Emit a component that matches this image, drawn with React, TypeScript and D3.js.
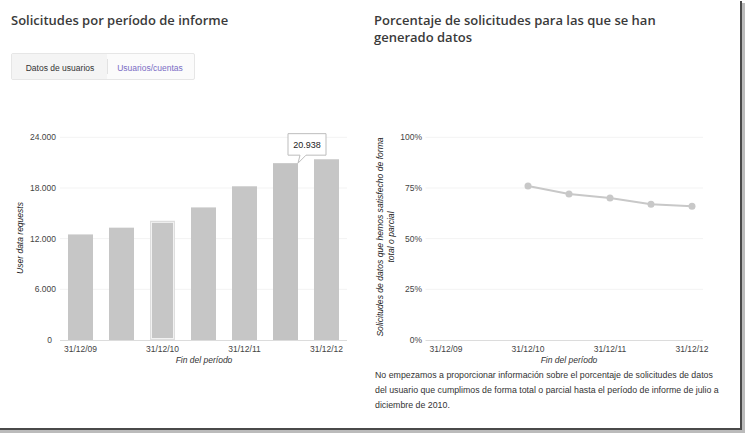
import React, { useEffect, useRef } from "react";
import * as d3 from "d3";

// period end dates, one per half-year report
const periods = ["31/12/09", "30/06/10", "31/12/10", "30/06/11", "31/12/11", "30/06/12", "31/12/12"];
const labelledPeriods = ["31/12/09", "31/12/10", "31/12/11", "31/12/12"];
const requests = [12500, 13300, 14100, 15700, 18200, 20938, 21400];
const requestTicks = [0, 6000, 12000, 18000, 24000];

// percentage of requests with data produced (reported since Jul-Dec 2010)
const pctPeriods = ["31/12/10", "30/06/11", "31/12/11", "30/06/12", "31/12/12"];
const pctValues = [76, 72, 70, 67, 66];
const pctTicks = [0, 25, 50, 75, 100];

const selectedPeriod = "31/12/10";
const hoverPeriod = "30/06/12";

const footnote = [
  "No empezamos a proporcionar información sobre el porcentaje de solicitudes de datos",
  "del usuario que cumplimos de forma total o parcial hasta el período de informe de julio a",
  "diciembre de 2010.",
];

const W = 745, H = 433;
const SANS = "'Liberation Sans', Arial, sans-serif";
const TITLE = "'Open Sans', 'Noto Sans', sans-serif";

const locale = d3.formatLocale({ decimal: ",", thousands: ".", grouping: [3], currency: ["", "€"] });
const fmt = locale.format(",d");

export default function App() {
  const ref = useRef<SVGSVGElement>(null);

  useEffect(() => {
    const svg = d3.select(ref.current);
    svg.selectAll("*").remove();

    // titles
    svg.append("text").attr("x", 11).attr("y", 25)
      .style("font-family", TITLE).style("font-weight", 600).style("font-size", "13px")
      .attr("fill", "#3a3a3a").text("Solicitudes por período de informe");
    const t2 = svg.append("text").attr("x", 374).attr("y", 25)
      .style("font-family", TITLE).style("font-weight", 600).style("font-size", "13px")
      .attr("fill", "#3a3a3a");
    t2.append("tspan").attr("x", 374).text("Porcentaje de solicitudes para las que se han");
    t2.append("tspan").attr("x", 374).attr("dy", 17).text("generado datos");

    // tab switcher
    const tabs = svg.append("g");
    tabs.append("rect").attr("x", 11.5).attr("y", 53.5).attr("width", 183).attr("height", 26)
      .attr("fill", "#fbfbfb").attr("stroke", "#e6e6e6").attr("rx", 1.5);
    tabs.append("rect").attr("x", 12).attr("y", 54).attr("width", 95).attr("height", 25).attr("fill", "#f4f4f4");
    tabs.append("line").attr("x1", 107.5).attr("x2", 107.5).attr("y1", 59).attr("y2", 74).attr("stroke", "#e2e2e2");
    tabs.append("text").attr("x", 60).attr("y", 70.5).attr("text-anchor", "middle")
      .style("font-family", SANS).style("font-size", "8.5px").attr("fill", "#333").text("Datos de usuarios");
    tabs.append("text").attr("x", 150).attr("y", 70.5).attr("text-anchor", "middle")
      .style("font-family", SANS).style("font-size", "8.5px").attr("fill", "#7a6cc4").text("Usuarios/cuentas");

    // ---------- left: bar chart ----------
    const x = d3.scaleBand().domain(periods).range([60, 347]).paddingInner(0.39).paddingOuter(0.195);
    const y = d3.scaleLinear().domain([0, 24000]).range([340, 137.3]);

    const left = svg.append("g");
    left.selectAll(".grid").data(requestTicks.slice(1)).enter().append("line")
      .attr("x1", 60).attr("x2", 347).attr("y1", d => y(d)).attr("y2", d => y(d))
      .attr("stroke", "#f3f3f3");
    left.selectAll(".ytick").data(requestTicks).enter().append("text")
      .attr("x", d => (d === 0 ? 52 : 56)).attr("y", d => y(d) + 3).attr("text-anchor", "end")
      .style("font-family", SANS).style("font-size", "8.5px").attr("fill", "#444")
      .text(d => fmt(d));

    const rows = periods.map((p, i) => ({ p, v: requests[i] }));
    left.selectAll(".bar").data(rows).enter().append("rect")
      .attr("x", d => x(d.p)!).attr("y", d => y(d.v)).attr("width", x.bandwidth())
      .attr("height", d => y(0) - y(d.v))
      .attr("fill", d => (d.p === hoverPeriod ? "#c3c3c3" : "#c6c6c6"));

    // selected bar outline
    const sel = rows.find(d => d.p === selectedPeriod)!;
    left.append("rect").attr("x", x(sel.p)! + 0.5).attr("y", y(sel.v) + 0.5)
      .attr("width", x.bandwidth() - 1).attr("height", y(0) - y(sel.v) - 1)
      .attr("fill", "none").attr("stroke", "#dedede");
    left.append("rect").attr("x", x(sel.p)! + 1.5).attr("y", y(sel.v) + 1.5)
      .attr("width", x.bandwidth() - 3).attr("height", y(0) - y(sel.v) - 3)
      .attr("fill", "none").attr("stroke", "#f2f2f2");

    left.append("line").attr("x1", 60).attr("x2", 347).attr("y1", 340.5).attr("y2", 340.5).attr("stroke", "#dcdcdc");
    left.selectAll(".xtick").data(labelledPeriods).enter().append("text")
      .attr("x", d => x(d)! + x.bandwidth() / 2).attr("y", 352).attr("text-anchor", "middle")
      .style("font-family", SANS).style("font-size", "8.5px").attr("fill", "#444").text(d => d);
    left.append("text").attr("x", 204).attr("y", 362.5).attr("text-anchor", "middle")
      .style("font-family", SANS).style("font-size", "8.5px").style("font-style", "italic")
      .attr("fill", "#333").text("Fin del período");
    left.append("text").attr("transform", "translate(23,238) rotate(-90)").attr("text-anchor", "middle")
      .style("font-family", SANS).style("font-size", "8.5px").style("font-style", "italic")
      .attr("fill", "#222").text("User data requests");

    // tooltip on hovered bar
    const hv = rows.find(d => d.p === hoverPeriod)!;
    const tipX = x(hv.p)! + x.bandwidth();
    const tipY = y(hv.v);
    const tip = left.append("g");
    tip.append("path")
      .attr("d", `M${tipX - 10},${tipY - 29.5} H${tipX + 28} V${tipY - 8} H${tipX + 8} L${tipX},${tipY} L${tipX + 2},${tipY - 8} H${tipX - 10} Z`)
      .attr("fill", "#fff").attr("stroke", "#bdbdbd").attr("stroke-linejoin", "round");
    tip.append("text").attr("x", tipX + 9).attr("y", tipY - 15.5).attr("text-anchor", "middle")
      .style("font-family", SANS).style("font-size", "9px").attr("fill", "#222").text(fmt(hv.v));

    // ---------- right: line chart ----------
    const xp = d3.scalePoint().domain(periods).range([425.5, 712.5]).padding(0.5);
    const yp = d3.scaleLinear().domain([0, 100]).range([340, 137.3]);

    const right = svg.append("g");
    right.selectAll(".grid").data(pctTicks.slice(1)).enter().append("line")
      .attr("x1", 425.5).attr("x2", 703).attr("y1", d => yp(d)).attr("y2", d => yp(d))
      .attr("stroke", "#f3f3f3");
    right.selectAll(".ytick").data(pctTicks).enter().append("text")
      .attr("x", 422).attr("y", d => yp(d) + 3).attr("text-anchor", "end")
      .style("font-family", SANS).style("font-size", "8.5px").attr("fill", "#444")
      .text(d => d + "%");
    right.append("line").attr("x1", 425.5).attr("x2", 703).attr("y1", 340.5).attr("y2", 340.5).attr("stroke", "#dcdcdc");
    right.selectAll(".xtick").data(labelledPeriods).enter().append("text")
      .attr("x", d => xp(d)!).attr("y", 352).attr("text-anchor", "middle")
      .style("font-family", SANS).style("font-size", "8.5px").attr("fill", "#444").text(d => d);
    right.append("text").attr("x", 569).attr("y", 362.5).attr("text-anchor", "middle")
      .style("font-family", SANS).style("font-size", "8.5px").style("font-style", "italic")
      .attr("fill", "#333").text("Fin del período");
    const yl = right.append("text").attr("transform", "translate(383,237) rotate(-90)").attr("text-anchor", "middle")
      .style("font-family", SANS).style("font-size", "8.6px").style("font-style", "italic").attr("fill", "#222");
    yl.append("tspan").attr("x", 0).text("Solicitudes de datos que hemos satisfecho de forma");
    yl.append("tspan").attr("x", 0).attr("dy", 11).text("total o parcial");

    const pts = pctPeriods.map((p, i) => ({ p, v: pctValues[i] }));
    right.append("path").datum(pts)
      .attr("d", d3.line<{ p: string; v: number }>().x(d => xp(d.p)!).y(d => yp(d.v)))
      .attr("fill", "none").attr("stroke", "#c8c8c8").attr("stroke-width", 2);
    right.selectAll(".pt").data(pts).enter().append("circle")
      .attr("cx", d => xp(d.p)!).attr("cy", d => yp(d.v)).attr("r", 3.5).attr("fill", "#c8c8c8");

    const fn = svg.append("text").attr("x", 375).attr("y", 378)
      .style("font-family", SANS).style("font-size", "8.8px").attr("fill", "#333");
    footnote.forEach((l, i) => fn.append("tspan").attr("x", 375).attr("dy", i === 0 ? 0 : 15).text(l));

    // page frame shadow, right and bottom
    svg.append("rect").attr("x", 740).attr("y", 1).attr("width", 2).attr("height", 429).attr("fill", "#4a4a4a");
    svg.append("rect").attr("x", 742).attr("y", 3).attr("width", 3).attr("height", 430).attr("fill", "#bbb");
    svg.append("rect").attr("x", 0).attr("y", 428).attr("width", 742).attr("height", 2).attr("fill", "#4a4a4a");
    svg.append("rect").attr("x", 0).attr("y", 430).attr("width", 745).attr("height", 3).attr("fill", "#bbb");
  }, []);

  return (
    <svg ref={ref} width={W} height={H} style={{ position: "absolute", left: 0, top: 0, background: "#fff" }} />
  );
}
